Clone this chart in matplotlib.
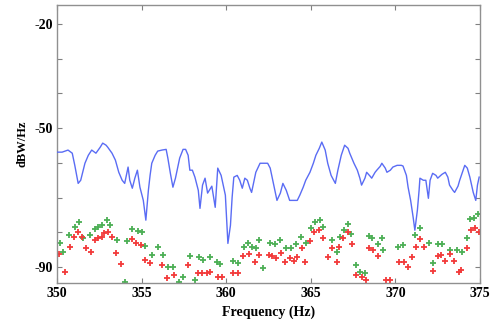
import matplotlib
matplotlib.use("Agg")
import matplotlib.pyplot as plt
from matplotlib.ticker import FixedLocator, FixedFormatter

# Power spectral density, dBW/Hz
psd_freq = [350.0, 350.3, 350.65, 350.9, 351.05, 351.25, 351.4, 351.65, 351.85, 352.05,
            352.3, 352.55, 352.7, 352.9, 353.0, 353.25, 353.45, 353.65, 353.85, 354.0,
            354.2, 354.3, 354.45, 354.6, 354.75, 354.9, 355.1, 355.25, 355.4, 355.5,
            355.6, 355.8, 355.95, 356.2, 356.45, 356.55, 356.7, 356.85, 357.0, 357.1,
            357.25, 357.45, 357.6, 357.75, 357.85, 358.0, 358.15, 358.35, 358.45, 358.6,
            358.75, 358.9, 359.15, 359.35, 359.5, 359.7, 359.95, 360.1, 360.25, 360.35,
            360.45, 360.65, 360.8, 360.95, 361.1, 361.25, 361.4, 361.5, 361.75, 362.0,
            362.3, 362.45, 362.6, 362.75, 363.0, 363.2, 363.35, 363.55, 363.75, 364.0,
            364.2, 364.35, 364.55, 364.7, 364.95, 365.15, 365.3, 365.5, 365.65, 365.85,
            366.0, 366.2, 366.45, 366.6, 366.8, 367.0, 367.2, 367.3, 367.55, 367.75,
            367.9, 368.0, 368.2, 368.3, 368.5, 368.6, 368.8, 368.9, 369.1, 369.2,
            369.4, 369.5, 369.7, 369.85, 370.1, 370.35, 370.45, 370.65, 370.75, 370.9,
            371.05, 371.15, 371.3, 371.4, 371.45, 371.65, 371.8, 371.95, 372.05, 372.2,
            372.4, 372.5, 372.75, 372.95, 373.1, 373.2, 373.4, 373.5, 373.7, 373.8,
            374.0, 374.1, 374.25, 374.4, 374.6, 374.75, 374.85, 374.95]
psd_db = [-56.9, -56.9, -56.3, -57.2, -60.7, -65.9, -65.0, -60.1, -57.8, -56.3,
          -57.2, -55.5, -54.3, -54.9, -55.5, -57.2, -59.2, -62.7, -65.0, -65.9,
          -61.2, -65.0, -67.3, -64.4, -62.1, -67.0, -70.8, -76.5, -67.9, -63.6,
          -60.1, -57.8, -56.6, -56.3, -56.1, -58.6, -63.0, -67.0, -64.4, -62.1,
          -58.6, -56.1, -56.1, -57.8, -62.1, -62.1, -64.1, -67.9, -73.1, -66.4,
          -64.4, -68.7, -66.7, -72.8, -61.5, -63.6, -69.3, -83.2, -78.0, -69.9,
          -64.1, -63.6, -65.0, -67.3, -64.4, -65.0, -67.3, -68.5, -62.7, -60.1,
          -60.1, -60.1, -61.5, -65.0, -70.8, -68.7, -65.9, -67.9, -70.8, -70.8,
          -70.8, -69.3, -67.0, -65.0, -62.7, -60.1, -57.8, -55.8, -54.0, -56.3,
          -60.1, -63.6, -65.9, -62.1, -57.8, -54.9, -55.8, -57.2, -60.1, -62.1,
          -64.4, -66.4, -64.4, -62.7, -63.8, -64.4, -62.7, -62.1, -61.0, -60.1,
          -61.5, -62.7, -62.1, -61.2, -60.7, -60.7, -60.9, -63.6, -67.0, -70.8,
          -75.7, -79.4, -73.6, -67.9, -64.4, -65.0, -65.0, -70.2, -65.0, -63.0,
          -63.6, -64.4, -63.3, -62.7, -64.1, -66.4, -67.9, -68.5, -66.7, -65.0,
          -62.1, -60.7, -61.5, -64.1, -68.5, -70.8, -66.4, -64.1]

red_freq = [350.12, 350.47, 350.77, 351.0, 351.24, 351.48, 351.71, 352.0, 352.25, 352.42,
            352.66, 352.78, 353.01, 353.25, 353.49, 353.78, 354.43, 354.67, 354.96, 355.2,
            355.5, 356.21, 356.5, 356.91, 357.74, 358.33, 358.57, 358.87, 359.04, 359.52,
            359.75, 360.4, 360.7, 360.99, 361.35, 361.7, 361.94, 362.53, 362.71, 362.94,
            363.24, 363.48, 363.77, 364.01, 364.18, 364.48, 364.66, 364.95, 365.19, 365.48,
            365.72, 366.02, 366.25, 366.55, 366.67, 366.9, 367.2, 367.43, 367.67, 368.03,
            368.26, 368.44, 368.68, 368.97, 369.44, 369.68, 370.21, 370.51, 370.74, 370.98,
            371.22, 371.45, 371.69, 372.22, 372.52, 372.7, 372.93, 373.23, 373.46, 373.76,
            373.88, 374.23, 374.47, 374.7, 374.94]
red_db = [-86.3, -91.5, -84.3, -81.4, -80.0, -81.4, -84.6, -85.8, -82.3, -81.7,
          -81.4, -80.3, -80.0, -81.4, -86.1, -89.2, -82.0, -83.2, -83.7, -88.1,
          -88.9, -89.5, -93.3, -92.4, -89.5, -91.8, -91.8, -91.8, -91.5, -93.0,
          -93.0, -91.8, -91.8, -86.9, -86.3, -88.6, -86.6, -86.6, -86.9, -87.5,
          -86.1, -88.6, -87.5, -88.4, -87.2, -84.6, -88.6, -82.6, -80.0, -79.4,
          -81.7, -87.2, -84.6, -88.6, -84.3, -81.7, -80.0, -83.5, -92.4, -93.0,
          -93.6, -84.6, -85.2, -86.9, -93.8, -93.8, -88.6, -88.6, -90.1, -87.2,
          -84.3, -82.0, -84.3, -91.2, -86.9, -86.6, -88.4, -86.3, -88.4, -91.5,
          -91.0, -84.6, -79.4, -78.8, -80.0]

green_freq = [350.18, 350.35, 350.71, 351.06, 351.3, 351.54, 351.95, 352.25, 352.42, 352.66,
              352.96, 353.13, 353.55, 354.02, 354.14, 354.43, 354.79, 355.02, 355.2, 355.61,
              355.97, 356.26, 356.56, 356.86, 357.21, 357.45, 357.86, 358.16, 358.39, 358.63,
              359.04, 359.46, 359.63, 360.4, 360.7, 361.05, 361.29, 361.52, 361.76, 361.94,
              362.17, 362.59, 362.88, 363.18, 363.53, 363.83, 364.13, 364.42, 364.72, 365.01,
              365.25, 365.54, 365.72, 366.25, 366.55, 366.73, 366.96, 367.2, 367.38, 367.67,
              367.91, 368.2, 368.44, 368.62, 368.97, 369.21, 369.27, 370.15, 370.45, 371.16,
              371.45, 371.99, 372.22, 372.52, 372.75, 373.23, 373.64, 373.94, 374.23, 374.41,
              374.65, 374.88]
green_db = [-83.2, -85.8, -80.9, -78.6, -77.1, -81.7, -80.9, -79.1, -78.6, -78.0,
            -76.5, -78.0, -82.3, -94.4, -82.6, -79.1, -79.7, -80.0, -84.0, -86.6,
            -84.3, -86.6, -90.1, -90.1, -94.4, -93.0, -86.9, -93.6, -87.2, -88.1,
            -87.2, -88.6, -89.2, -88.4, -88.9, -84.3, -83.2, -84.3, -84.6, -82.3,
            -90.4, -83.2, -83.5, -82.3, -84.6, -84.6, -83.5, -81.4, -83.2, -78.8,
            -77.1, -76.5, -78.6, -82.3, -85.8, -81.4, -79.4, -77.7, -80.6, -89.5,
            -91.5, -91.8, -81.1, -81.7, -83.5, -81.7, -85.2, -84.3, -83.7, -80.9,
            -78.8, -83.2, -88.9, -83.5, -83.5, -85.2, -85.2, -85.8, -81.7, -76.2,
            -76.0, -74.8]

x_ticks = [350, 355, 360, 365, 370, 375]
y_ticks = [-90, -80, -70, -60, -50, -40, -30, -20]
y_tick_labels = ["-90", "", "", "", "-50", "", "", "-20"]

serif = ["Liberation Serif", "DejaVu Serif"]

fig = plt.figure(figsize=(4.92, 3.27), dpi=100)
ax = fig.add_axes([0.1159, 0.1346, 0.8597, 0.8501])

ax.plot(psd_freq, psd_db, color="#5a6cf4", lw=1.0, zorder=3)
ax.scatter(green_freq, green_db, marker="+", s=22, linewidths=1.3,
           color="#4caf55", zorder=2)
ax.scatter(red_freq, red_db, marker="+", s=22, linewidths=1.3,
           color="#f23a3a", zorder=2)

ax.set_xlim(350, 375)
ax.set_ylim(-94.6, -14.5)
ax.xaxis.set_major_locator(FixedLocator(x_ticks))
ax.yaxis.set_major_locator(FixedLocator(y_ticks))
ax.yaxis.set_major_formatter(FixedFormatter(y_tick_labels))

ax.tick_params(direction="in", length=3.5, width=0.8, color="#808080",
               top=True, right=True, labelsize=10, pad=3)
for lab in ax.get_xticklabels() + ax.get_yticklabels():
    lab.set_family(serif)
    lab.set_fontweight("bold")

for sp in ax.spines.values():
    sp.set_color("#909090")
    sp.set_linewidth(1.0)

ax.set_xlabel("Frequency (Hz)", family=serif, fontweight="bold", fontsize=10, labelpad=4)
ax.set_ylabel("dBW/Hz", family=serif, fontweight="bold", fontsize=9, labelpad=4)

fig.savefig("out.png", dpi=100)
